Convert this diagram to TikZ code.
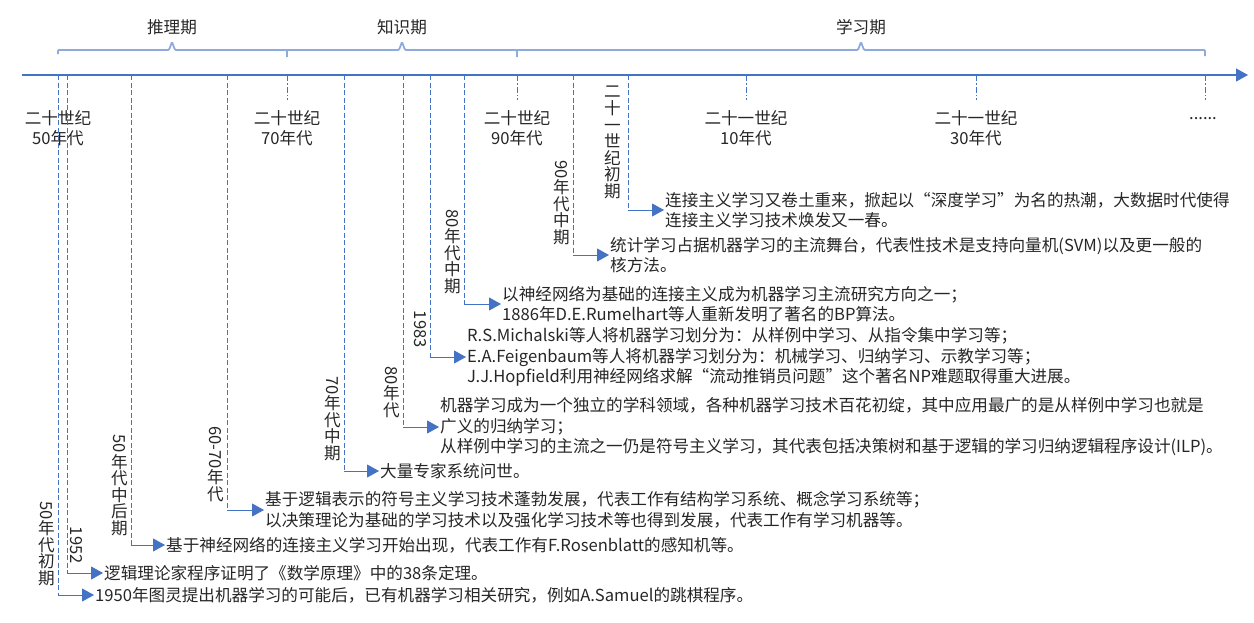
\documentclass[tikz,border=0pt]{standalone}
\usepackage{fontspec}
\setmainfont{Noto Sans CJK SC}
\usepackage{graphicx}
\usetikzlibrary{arrows.meta,positioning}

\definecolor{axisblue}{HTML}{4472C4}
\definecolor{braceblue}{HTML}{8FAADC}
\definecolor{txtgray}{HTML}{262626}

\newcommand{\txtsize}{\fontsize{16.6pt}{20.5pt}\selectfont}
\newcommand{\vlabsize}{\fontsize{16.6pt}{16.6pt}\selectfont}
\newcommand{\rdig}[1]{\rotatebox[origin=c]{-90}{#1}}

\tikzset{
  axisline/.style={axisblue, line width=1.2pt, -{Triangle[length=12pt,width=13pt]}},
  periodbrace/.style={braceblue, line width=1.8pt, rounded corners=1pt},
  decadetick/.style={axisblue, line width=0.8pt, dash pattern=on 6pt off 2pt on 1.5pt off 2pt},
  evline/.style={axisblue, line width=0.9pt, dash pattern=on 5pt off 2.5pt},
  evarrow/.style={axisblue, line width=0.9pt, -{Triangle[length=12pt,width=13pt]}},
  evtext/.style={align=left, inner sep=1pt, text=txtgray},
  vlab/.style={align=center, inner sep=0pt, font=\vlabsize, text=txtgray},
}

\begin{document}
\begin{tikzpicture}[x=1pt,y=-1pt,font=\txtsize,text=txtgray]
\useasboundingbox (0,0) rectangle (1254,622);

% time axis
\draw[axisline] (22,75) -- (1248,75);

% periods
\draw[periodbrace] (58,54) -- (58,50) -- (169,50) -- (172,42) -- (175,50) -- (287,50) -- (287,57);
\draw[periodbrace] (287,50) -- (399,50) -- (402,42) -- (405,50) -- (517,50) -- (517,57);
\draw[periodbrace] (517,50) -- (858,50) -- (861,42) -- (864,50) -- (1205,50) -- (1205,56);
\node (p1) at (172,27) {推理期};
\node (p2) at (402,27) {知识期};
\node (p3) at (861,27) {学习期};

% decades
\node[align=center] (d50) at (58,128) {二十世纪\\50年代};
\foreach \x/\cent/\dec in {287/二十世纪/70, 517/二十世纪/90, 746/二十一世纪/10, 976/二十一世纪/30}{
  \draw[decadetick] (\x,75) -- (\x,100);
  \node[align=center] (d\dec) at (\x,128) {\cent\\\dec 年代};
}
\draw[decadetick] (1205,75) -- (1205,100);
\node (dmore) at (1203,119) {......};

% 50年代初期
\coordinate (a1) at (58,75);
\coordinate (c1) at (58,595);
\node[evtext, right=36pt of c1] (t1) {1950年图灵提出机器学习的可能后，已有机器学习相关研究，例如A.Samuel的跳棋程序。};
\node[vlab, above left=9pt and 3pt of c1] (l1) {\rdig{50}\\年\\代\\初\\期};
\draw[evline] (a1) -- (c1);
\draw[evarrow] (c1) -- (t1.west);

% 1952
\coordinate (a2) at (67,75);
\coordinate (c2) at (67,573);
\node[evtext, right=36pt of c2] (t2) {逻辑理论家程序证明了《数学原理》中的38条定理。};
\node[vlab, above right=9pt and 3pt of c2] (l2) {\rdig{1952}};
\draw[evline] (a2) -- (c2);
\draw[evarrow] (c2) -- (t2.west);

% 50年代中后期
\coordinate (a3) at (131,75);
\coordinate (c3) at (131,545);
\node[evtext, right=34pt of c3] (t3) {基于神经网络的连接主义学习开始出现，代表工作有F.Rosenblatt的感知机等。};
\node[vlab, above left=9pt and 3pt of c3] (l3) {\rdig{50}\\年\\代\\中\\后\\期};
\draw[evline] (a3) -- (c3);
\draw[evarrow] (c3) -- (t3.west);

% 60-70年代
\coordinate (a4) at (227,75);
\coordinate (c4) at (227,510);
\node[evtext, right=37pt of c4] (t4) {基于逻辑表示的符号主义学习技术蓬勃发展，代表工作有结构学习系统、概念学习系统等；\\以决策理论为基础的学习技术以及强化学习技术等也得到发展，代表工作有学习机器等。};
\node[vlab, above left=8pt and 3pt of c4] (l4) {\rdig{60-70}\\年\\代};
\draw[evline] (a4) -- (c4);
\draw[evarrow] (c4) -- (t4.west);

% 70年代中期
\coordinate (a5) at (344,75);
\coordinate (c5) at (344,471);
\node[evtext, right=35pt of c5] (t5) {大量专家系统问世。};
\node[vlab, above left=10pt and 3pt of c5] (l5) {\rdig{70}\\年\\代\\中\\期};
\draw[evline] (a5) -- (c5);
\draw[evarrow] (c5) -- (t5.west);

% 80年代
\coordinate (a6) at (403,75);
\coordinate (c6) at (403,427);
\node[evtext, right=36pt of c6] (t6) {机器学习成为一个独立的学科领域，各种机器学习技术百花初绽，其中应用最广的是从样例中学习也就是\\广义的归纳学习；\\从样例中学习的主流之一仍是符号主义学习，其代表包括决策树和基于逻辑的学习归纳逻辑程序设计(ILP)。};
\node[vlab, above left=9pt and 3pt of c6] (l6) {\rdig{80}\\年\\代};
\draw[evline] (a6) -- (c6);
\draw[evarrow] (c6) -- (t6.west);

% 1983
\coordinate (a7) at (430,75);
\coordinate (c7) at (430,357);
\node[evtext, right=36pt of c7] (t7) {R.S.Michalski等人将机器学习划分为：从样例中学习、从指令集中学习等；\\E.A.Feigenbaum等人将机器学习划分为：机械学习、归纳学习、示教学习等；\\J.J.Hopfield利用神经网络求解“流动推销员问题”这个著名NP难题取得重大进展。};
\node[vlab, above left=9pt and 3pt of c7] (l7) {\rdig{1983}};
\draw[evline] (a7) -- (c7);
\draw[evarrow] (c7) -- (t7.west);

% 80年代中期
\coordinate (a8) at (464,75);
\coordinate (c8) at (464,304);
\node[evtext, right=37pt of c8] (t8) {以神经网络为基础的连接主义成为机器学习主流研究方向之一；\\1886年D.E.Rumelhart等人重新发明了著名的BP算法。};
\node[vlab, above left=10pt and 3pt of c8] (l8) {\rdig{80}\\年\\代\\中\\期};
\draw[evline] (a8) -- (c8);
\draw[evarrow] (c8) -- (t8.west);

% 90年代中期
\coordinate (a9) at (573,75);
\coordinate (c9) at (573,255);
\node[evtext, right=36pt of c9] (t9) {统计学习占据机器学习的主流舞台，代表性技术是支持向量机(SVM)以及更一般的\\核方法。};
\node[vlab, above left=10pt and 3pt of c9] (l9) {\rdig{90}\\年\\代\\中\\期};
\draw[evline] (a9) -- (c9);
\draw[evarrow] (c9) -- (t9.west);

% 二十一世纪初期
\coordinate (a10) at (628,75);
\coordinate (c10) at (628,210);
\node[evtext, right=36pt of c10] (t10) {连接主义学习又卷土重来，掀起以“深度学习”为名的热潮，大数据时代使得\\连接主义学习技术焕发又一春。};
\node[vlab, above left=11pt and 7pt of c10] (l10) {二\\十\\一\\世\\纪\\初\\期};
\draw[evline] (a10) -- (c10);
\draw[evarrow] (c10) -- (t10.west);
\end{tikzpicture}
\end{document}
